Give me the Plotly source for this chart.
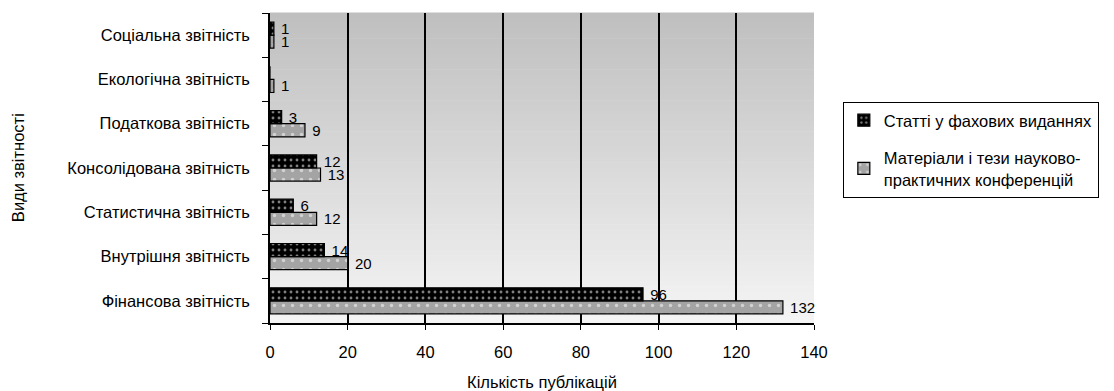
import plotly.graph_objects as go

categories = ["Фінансова звітність", "Внутрішня звітність", "Статистична звітність",
              "Консолідована звітність", "Податкова звітність", "Екологічна звітність",
              "Соціальна звітність"]
articles = [96, 14, 6, 12, 3, 0, 1]
materials = [132, 20, 12, 13, 9, 1, 1]
series_names = ["Статті у фахових виданнях",
                "Матеріали і тези науково-<br>практичних конференцій"]
x_ticks = [0, 20, 40, 60, 80, 100, 120, 140]

FONT = "Liberation Sans, Arial, sans-serif"
FS = 16.5
LFS = 15

def labels(vals):
    return [" " + str(v) if v else "" for v in vals]

fig = go.Figure()
fig.add_trace(go.Bar(
    y=categories, x=materials, orientation="h", name=series_names[1],
    text=labels(materials), textposition="outside", cliponaxis=False,
    constraintext="none",
    textfont=dict(family=FONT, size=LFS, color="black"),
    marker=dict(color="#a4a4a4", line=dict(color="black", width=1.2),
                pattern=dict(shape=".", fgcolor="white", bgcolor="#a4a4a4",
                             size=9, solidity=0.12, fillmode="overlay")),
    legendrank=2, legendgroup="b",
))
fig.add_trace(go.Bar(
    y=categories, x=articles, orientation="h", name=series_names[0],
    text=labels(articles), textposition="outside", cliponaxis=False,
    constraintext="none",
    textfont=dict(family=FONT, size=LFS, color="black"),
    marker=dict(color="black", line=dict(color="black", width=1.2),
                pattern=dict(shape=".", fgcolor="white", bgcolor="black",
                             size=6, solidity=0.18, fillmode="overlay")),
    legendrank=1, legendgroup="a",
))

# gradient background stripes
n = 60
top = (0xbf, 0xbf, 0xbf)
bot = (0xf4, 0xf4, 0xf4)
shapes = []
for i in range(n):
    t = i / (n - 1)
    c = tuple(int(round(top[k] + (bot[k] - top[k]) * t)) for k in range(3))
    shapes.append(dict(type="rect", xref="x domain", yref="y domain",
                       x0=0, x1=1, y0=1 - (i + 1) / n, y1=1 - i / n + 0.002,
                       fillcolor="rgb(%d,%d,%d)" % c, line=dict(width=0),
                       layer="below"))

# page body has an 8px default margin; size the figure to fit the window
fig.update_layout(
    width=1106, height=383,
    margin=dict(l=262, r=300, t=5, b=68, autoexpand=False),
    paper_bgcolor="white", plot_bgcolor="rgba(0,0,0,0)",
    barmode="group", bargap=0.41, bargroupgap=0,
    font=dict(family=FONT, size=FS, color="black"),
    shapes=shapes,
    showlegend=True,
    legend=dict(x=1.053, y=0.713, xanchor="left", yanchor="top",
                bordercolor="black", borderwidth=1, bgcolor="white",
                font=dict(family=FONT, size=FS, color="black"),
                traceorder="grouped", tracegroupgap=13, itemwidth=30),
    xaxis=dict(range=[0, 140], tickvals=x_ticks, ticks="outside", ticklen=5,
               tickcolor="black", showline=True, linecolor="black", linewidth=1.5,
               showgrid=True, gridcolor="black", gridwidth=1.5, zeroline=False,
               tickfont=dict(size=FS), ticklabelstandoff=8, automargin=False,
               title=dict(text="Кількість публікацій", font=dict(size=FS), standoff=18)),
    yaxis=dict(categoryorder="array", categoryarray=categories,
               ticks="outside", ticklen=6, tickcolor="black", tickson="boundaries",
               showline=True, linecolor="black", linewidth=1.5,
               showgrid=False, tickfont=dict(size=FS), ticklabelstandoff=15,
               automargin=False),
    annotations=[dict(text="Види звітності", textangle=-90, xref="paper", yref="paper",
                      x=-0.463, y=0.5, showarrow=False, font=dict(size=FS),
                      xanchor="center", yanchor="middle")],
)

fig.write_html("out.html")
